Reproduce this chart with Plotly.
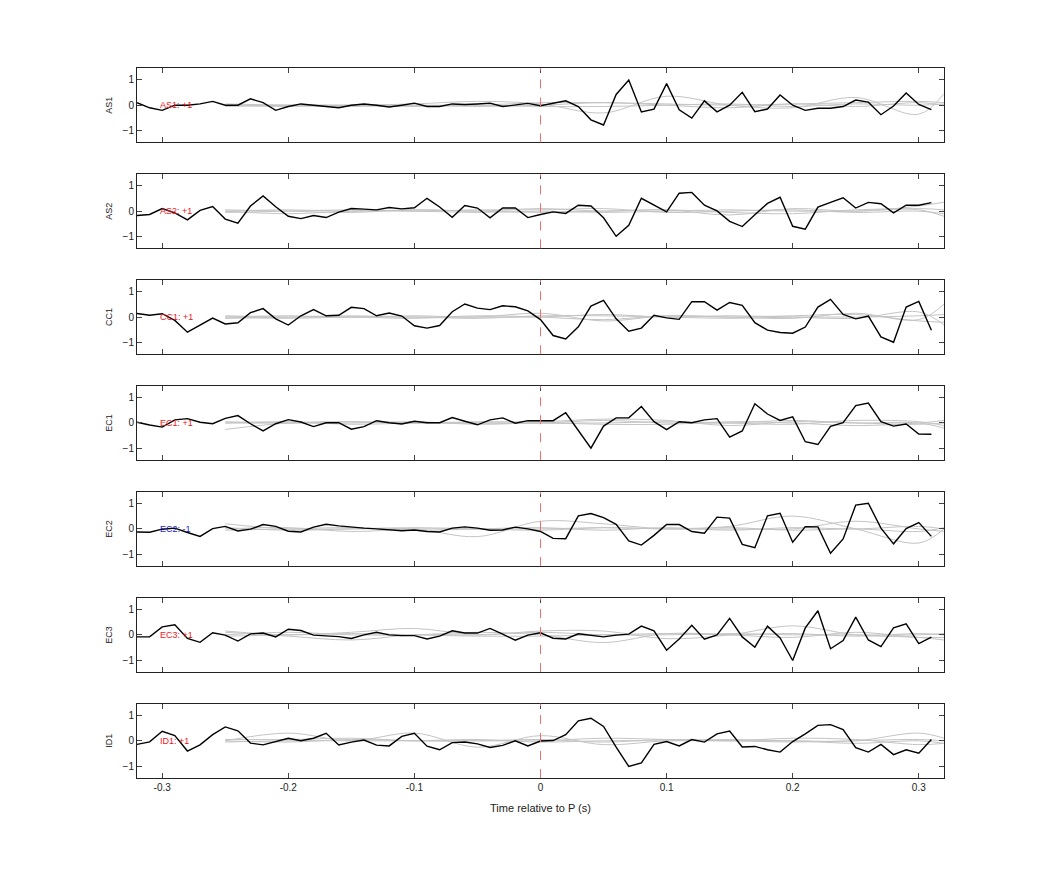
import numpy as np
import plotly.graph_objects as go
from plotly.subplots import make_subplots

time = [round(-0.32 + 0.01 * i, 2) for i in range(64)]
channels = ["AS1", "AS2", "CC1", "EC1", "EC2", "EC3", "ID1"]
labels = ["AS1: +1", "AS2: +1", "CC1: +1", "EC1: +1", "EC2: -1", "EC3: +1", "ID1: +1"]
label_colors = ["#e8161b", "#e8161b", "#e8161b", "#e8161b", "#1c1ccc", "#e8161b", "#e8161b"]

AS1 = [0.1, -0.1, -0.2, 0, 0, 0.05, 0.15, 0, 0, 0.25, 0.1, -0.2, -0.05, 0.05, 0, -0.05,
       -0.1, 0, 0.05, 0, -0.07, 0, 0.08, -0.05, -0.05, 0.05, 0.03, 0.05, 0.08, -0.05, 0, 0.07,
       -0.02, 0.07, 0.17, -0.05, -0.57, -0.77, 0.42, 0.98, -0.26, -0.15, 0.84, -0.18, -0.5, 0.17, -0.26, 0,
       0.5, -0.25, -0.15, 0.4, 0, -0.2, -0.12, -0.12, -0.05, 0.2, 0.12, -0.37, -0.03, 0.48, 0.03, -0.17]
AS2 = [-0.17, -0.13, 0.1, -0.07, -0.34, 0.03, 0.18, -0.31, -0.47, 0.2, 0.59, 0.17, -0.2, -0.29, -0.17, -0.25,
       -0.04, 0.1, 0.08, 0.05, 0.14, 0.09, 0.13, 0.5, 0.16, -0.24, 0.22, 0.12, -0.26, 0.12, 0.12, -0.25,
       -0.13, -0.03, -0.09, 0.23, 0.2, -0.26, -0.98, -0.55, 0.5, 0.23, -0.03, 0.7, 0.73, 0.23, 0.01, -0.4,
       -0.6, -0.14, 0.3, 0.54, -0.59, -0.7, 0.16, 0.34, 0.52, 0.12, 0.34, 0.29, -0.07, 0.23, 0.23, 0.33]
CC1 = [0.14, 0.07, 0.13, -0.13, -0.59, -0.31, -0.04, -0.27, -0.22, 0.17, 0.33, -0.07, -0.31, 0.05, 0.29, 0.05,
       0.07, 0.38, 0.33, 0.05, 0.16, 0.04, -0.34, -0.43, -0.33, 0.21, 0.51, 0.35, 0.29, 0.44, 0.4, 0.24,
       -0.1, -0.72, -0.85, -0.38, 0.43, 0.65, -0.07, -0.55, -0.43, 0.07, -0.03, -0.09, 0.6, 0.6, 0.27, 0.57,
       0.46, -0.22, -0.51, -0.6, -0.63, -0.39, 0.39, 0.69, 0.1, -0.07, 0.04, -0.77, -0.98, 0.39, 0.61, -0.51]
EC1 = [0.03, -0.08, -0.16, 0.12, 0.17, 0.03, -0.03, 0.18, 0.29, -0.03, -0.31, -0.03, 0.13, 0.04, -0.14, 0.01,
       0.01, -0.24, -0.14, 0.09, 0.01, -0.04, 0.07, 0.01, 0.01, 0.21, 0.07, -0.07, 0.12, 0.2, -0.01, 0.09,
       0.09, 0.09, 0.4, -0.27, -0.98, -0.12, 0.2, 0.2, 0.64, 0.05, -0.26, 0.05, 0.01, 0.12, 0.17, -0.55,
       -0.31, 0.75, 0.35, 0.1, 0.24, -0.73, -0.84, -0.13, 0.01, 0.68, 0.78, 0.05, -0.12, -0.04, -0.43, -0.44]
EC2 = [-0.12, -0.13, -0.01, 0.03, -0.14, -0.29, 0.01, 0.1, -0.08, -0.01, 0.17, 0.1, -0.09, -0.12, 0.07, 0.18,
       0.12, 0.07, 0.03, 0, -0.03, -0.07, -0.04, -0.1, -0.12, 0.03, 0.08, 0.03, -0.05, -0.04, 0.07, 0,
       -0.1, -0.37, -0.38, 0.51, 0.6, 0.44, 0.18, -0.47, -0.63, -0.25, 0.17, 0.17, -0.1, -0.17, 0.46, 0.42,
       -0.6, -0.73, 0.51, 0.61, -0.52, 0.09, 0.08, -0.95, -0.39, 0.93, 1.0, 0.03, -0.58, 0.01, 0.25, -0.29]
EC3 = [-0.08, -0.08, 0.31, 0.39, -0.14, -0.29, 0.08, -0.01, -0.24, 0.04, 0.07, -0.08, 0.22, 0.17, -0.01, -0.03,
       -0.07, -0.14, 0, 0.1, 0, -0.03, -0.03, -0.16, -0.05, 0.16, 0.07, 0.07, 0.25, 0.03, -0.21, -0.01,
       0.08, -0.13, -0.16, 0.04, -0.01, -0.08, -0.01, 0.03, 0.34, 0.16, -0.6, -0.16, 0.37, -0.17, 0, 0.64,
       -0.08, -0.48, 0.34, -0.12, -1.0, 0.27, 0.94, -0.54, -0.22, 0.69, -0.2, -0.46, 0.27, 0.43, -0.34, -0.09]
ID1 = [-0.14, -0.04, 0.37, 0.2, -0.4, -0.16, 0.24, 0.54, 0.39, -0.09, -0.16, -0.04, 0.1, 0, 0.1, 0.29,
       -0.16, -0.05, 0.03, -0.17, -0.2, 0.17, 0.29, -0.21, -0.35, -0.07, -0.05, -0.12, -0.26, -0.18, 0, -0.2,
       -0.01, 0.01, 0.24, 0.78, 0.88, 0.56, -0.25, -1.0, -0.86, -0.14, -0.03, -0.2, 0.05, -0.05, 0.27, 0.38,
       -0.24, -0.22, -0.35, -0.44, -0.03, 0.27, 0.6, 0.63, 0.44, -0.27, -0.44, -0.14, -0.54, -0.35, -0.48, 0.05]
signals = [AS1, AS2, CC1, EC1, EC2, EC3, ID1]

# gray reference traces, read at coarse times
gray_time = [-0.25, -0.2, -0.15, -0.1, -0.05, 0.0, 0.05, 0.1, 0.15, 0.2, 0.25, 0.3, 0.32]
gray_sets = [
    [[0, 0, 0, 0.05, 0.15, 0.05, -0.3, 0.35, 0.0, -0.1, 0.3, -0.35, 0.45],
     [0.05, 0.0, -0.05, 0.0, 0.0, 0.1, 0.1, 0.05, 0.0, 0.05, 0.1, 0.15, 0.1],
     [-0.05, 0.0, 0.0, -0.05, 0.0, -0.05, -0.05, 0.0, 0.05, -0.05, 0.05, 0.0, 0.05],
     [0.0, -0.05, 0.0, 0.0, -0.05, 0.0, 0.1, 0.0, -0.1, 0.05, -0.05, 0.1, 0.0]],
    [[0.0, 0.05, 0.0, 0.05, 0.0, 0.1, 0.0, 0.05, -0.15, 0.1, 0.0, 0.2, 0.35],
     [-0.05, 0.0, 0.05, 0.0, 0.05, 0.05, 0.1, -0.05, 0.0, 0.05, -0.05, 0.0, -0.1],
     [0.0, -0.1, 0.0, 0.0, -0.05, 0.0, -0.05, 0.0, 0.05, 0.0, 0.0, 0.1, 0.05],
     [0.05, 0.0, -0.05, 0.05, 0.0, -0.05, 0.0, 0.05, -0.05, -0.1, 0.05, 0.05, -0.2]],
    [[0.0, 0.05, 0.0, 0.05, 0.0, 0.15, -0.15, 0.05, 0.0, -0.05, 0.15, -0.1, 0.5],
     [-0.05, 0.0, 0.05, 0.0, 0.0, 0.0, 0.1, 0.0, 0.05, 0.0, -0.05, 0.2, -0.3],
     [0.0, -0.05, 0.0, -0.05, 0.05, 0.0, -0.1, 0.05, 0.0, 0.05, 0.1, -0.15, -0.2],
     [0.05, 0.0, 0.0, 0.0, -0.05, 0.05, 0.05, 0.0, -0.05, 0.0, 0.0, 0.05, 0.1]],
    [[-0.25, 0.0, 0.05, 0.0, 0.05, 0.05, 0.15, 0.1, -0.1, 0.05, 0.0, -0.05, 0.0],
     [0.0, 0.05, -0.05, 0.0, 0.0, 0.0, 0.0, 0.05, 0.0, -0.05, 0.1, 0.05, -0.1],
     [0.05, 0.0, 0.0, 0.05, -0.05, 0.0, -0.05, -0.05, 0.05, 0.0, -0.1, 0.0, 0.1],
     [0.0, 0.0, 0.05, 0.0, 0.0, 0.0, 0.1, 0.0, 0.0, 0.1, 0.0, 0.0, -0.2]],
    [[0.2, 0.0, 0.0, 0.0, -0.3, 0.3, 0.2, 0.0, 0.1, 0.5, 0.0, -0.55, 0.0],
     [0.0, 0.05, -0.1, 0.0, 0.0, 0.0, 0.05, 0.0, 0.0, 0.0, 0.3, 0.0, -0.1],
     [-0.05, 0.0, 0.05, -0.05, 0.0, 0.05, -0.05, 0.05, -0.05, 0.05, 0.0, 0.1, 0.0],
     [0.05, -0.05, 0.0, 0.05, 0.0, -0.05, 0.05, 0.0, 0.05, -0.05, 0.0, -0.1, 0.05]],
    [[0.15, 0.0, 0.1, 0.25, 0.0, 0.15, 0.15, -0.15, 0.0, 0.35, 0.0, -0.1, -0.2],
     [0.0, 0.1, 0.0, 0.0, 0.1, 0.0, -0.3, 0.05, 0.0, -0.1, 0.1, -0.1, -0.1],
     [0.1, -0.05, -0.2, 0.0, 0.0, 0.1, 0.0, 0.0, 0.05, 0.0, 0.0, 0.0, 0.05],
     [-0.05, 0.0, 0.05, 0.0, -0.05, -0.05, 0.0, 0.05, 0.0, 0.05, -0.05, 0.05, 0.0]],
    [[0.0, 0.3, 0.0, 0.3, -0.25, 0.2, -0.15, 0.0, 0.05, 0.0, 0.0, 0.3, 0.1],
     [0.05, 0.05, 0.1, 0.0, 0.0, 0.0, 0.1, 0.05, 0.0, 0.1, 0.05, -0.15, -0.1],
     [-0.05, 0.0, 0.0, 0.0, 0.05, -0.05, 0.0, 0.0, 0.0, -0.05, 0.0, 0.05, 0.0],
     [0.0, -0.05, 0.05, 0.0, 0.0, 0.05, -0.05, 0.05, 0.0, 0.0, -0.1, 0.0, -0.1]],
]

n = len(channels)
fig = make_subplots(rows=n, cols=1, shared_xaxes=True, vertical_spacing=31.5 / 710)
font = "Liberation Sans, Arial, sans-serif"

for i in range(n):
    r = i + 1
    for g in gray_sets[i]:
        fig.add_trace(go.Scatter(x=gray_time, y=g, mode="lines", line=dict(color="#c4c4c4", width=1, shape="spline"),
                                 showlegend=False, hoverinfo="skip"), row=r, col=1)
    fig.add_trace(go.Scatter(x=time, y=signals[i], mode="lines", line=dict(color="black", width=1.4),
                             showlegend=False), row=r, col=1)
    fig.add_shape(type="line", x0=0, x1=0, y0=0, y1=1, xref="x" if r == 1 else f"x{r}",
                  yref=("y domain" if r == 1 else f"y{r} domain"),
                  line=dict(color="#f07070", width=1, dash="dash"))
    fig.add_annotation(x=-0.303, y=0, text=labels[i], showarrow=False, xanchor="left", yanchor="middle",
                       xref="x" if r == 1 else f"x{r}", yref="y" if r == 1 else f"y{r}",
                       font=dict(color=label_colors[i], size=9, family=font))
    fig.update_yaxes(range=[-1.45, 1.45], tickvals=[-1, 0, 1], ticks="inside", ticklen=5,
                     showline=True, linecolor="#222", linewidth=1, mirror="ticks", showgrid=False,
                     zeroline=False, tickfont=dict(size=10, family=font, color="#222"),
                     title=dict(text=channels[i], font=dict(size=9, family=font), standoff=8),
                     row=r, col=1)
    fig.update_xaxes(range=[-0.32, 0.32], tickvals=[-0.3, -0.2, -0.1, 0, 0.1, 0.2, 0.3],
                     ticktext=["-0.3", "-0.2", "-0.1", "0", "0.1", "0.2", "0.3"],
                     ticks="inside", ticklen=5, showline=True, linecolor="#222", linewidth=1,
                     mirror="ticks", showgrid=False, zeroline=False,
                     tickfont=dict(size=10, family=font, color="#222"), row=r, col=1)

fig.update_xaxes(title=dict(text="Time relative to P (s)", font=dict(size=11, family=font), standoff=12), row=n, col=1)
fig.update_layout(width=1042, height=875, margin=dict(l=129, r=106, t=60, b=105),
                  paper_bgcolor="white", plot_bgcolor="white", font=dict(family=font, color="#222"))
fig.write_html("out.html")
